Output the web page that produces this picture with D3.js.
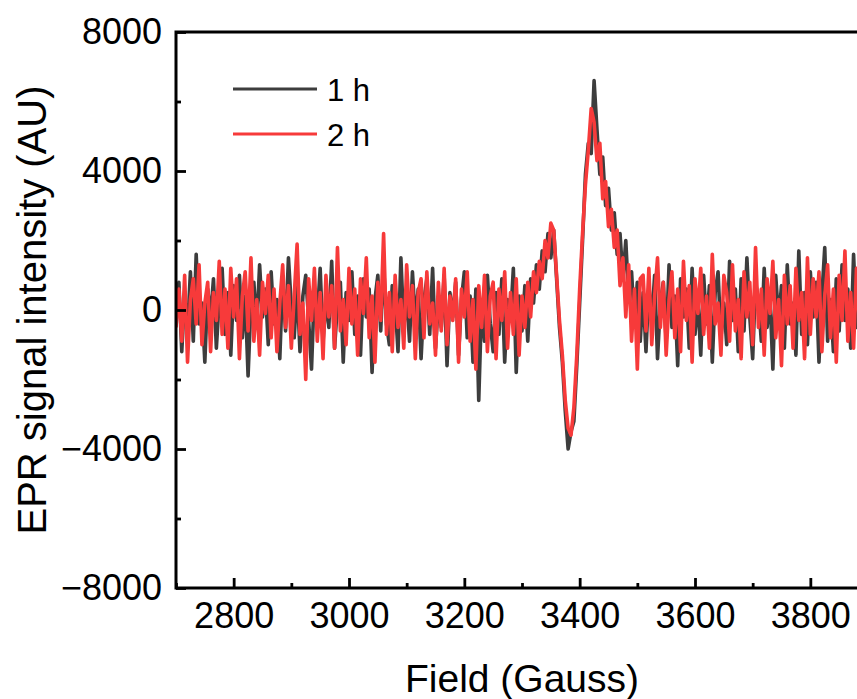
<!DOCTYPE html>
<html lang="en">
<head>
<meta charset="UTF-8">
<script src="https://d3js.org/d3.v7.min.js"></script>
<style>
  body { margin: 0; background: #fff; }
  svg { display: block; font-family: "Liberation Sans", Arial, sans-serif; }
  .tick text { font-size: 36px; fill: #000; }
</style>
</head>
<body>
<script>
// field sampling (Gauss): 2700 .. 3885, step 5
var fieldStart = 2700, fieldStep = 5;

// 1 h spectrum (AU)
var series1h = [
  -300, 800, -1200, 400, -600, 1100, -900, 1600, -400, 200,
  -1500, 600, -200, 900, -1100, 300, 1200, -700, 500, -1300,
  700, -300, 1000, -800, 400, -1900, 200, 800, -500, 1300,
  -200, 600, -1000, 1100, -400, 300, -1400, 900, -600, 1500,
  100, -800, 700, -1200, 400, 1000, -300, -1700, 600, -200,
  1200, -900, 300, -500, 1400, -1100, 200, 800, -1500, 500,
  -300, 1100, -700, 400, -1300, 900, -200, 600, -1800, 300,
  1000, -600, 1300, -400, -1000, 700, 200, -1200, 1500, -500,
  400, -900, 1100, -300, 600, -1400, 300, 900, -700, 1200,
  -1100, 200, -500, 1000, -1600, 500, -200, 800, -1300, 300,
  1100, -800, 400, -1500, 600, -2600, 200, -900, 1000, -400,
  -1200, 500, -700, 900, -1500, 300, -300, 1200, -1800, 400,
  -600, 700, -900, 900, 200, 1300, 600, 1700, 1100, 2200,
  1500, 2300, 900, -500, -1500, -2900, -4000, -3500, -3200, -1600,
  200, 2000, 3900, 4800, 4500, 6600, 5200, 3900, 4400, 3000,
  3500, 2300, 2800, 1600, 2200, 900, 2000, 300, 1100, -400,
  800, -900, 500, -1200, 700, -300, 1000, -1400, 200, 800,
  -900, 1300, -500, 400, -1600, 900, -200, 600, -1100, 1200,
  -700, 300, -1300, 1000, -400, 700, -1500, 500, 1100, -800,
  200, -1000, 1400, -300, 600, -1200, 900, -600, 1500, -200,
  -1400, 800, 300, -900, 1200, -500, 400, -1700, 1000, -300,
  700, -1100, 1300, -400, 200, -1300, 1700, -700, 500, -1000,
  1100, -200, 800, -1500, 400, 1800, -900, 300, -1200, 900,
  -600, 1300, -300, 600, -1100, 1600, -500, 200
];

// 2 h spectrum (AU)
var series2h = [
  -500, 600, -900, 1000, -1500, 300, 900, -400, 1300, -1000,
  200, 800, -1200, 500, -300, 1400, -700, 600, -1100, 1200,
  -200, 900, -1400, 400, 1100, -600, 1500, -900, 300, -1300,
  800, -100, 1000, -800, 600, -1200, 200, 1300, -500, 700,
  -1100, 400, 1900, -700, 200, -2000, 900, -300, 1200, -900,
  500, -1400, 1000, -200, 700, -1100, 1800, -600, 300, -1000,
  1200, -400, 600, -1300, 900, -100, 1500, -800, 400, -1500,
  800, -300, 2200, -700, 500, -1200, 1000, -500, 300, -1100,
  1300, -200, 700, -1400, 500, 900, -800, 1100, -400, 200,
  -1300, 800, -600, 1200, -1000, 400, -300, 900, -1500, 600,
  -200, 1100, -900, 300, -1700, 700, -500, 1000, -1200, 400,
  800, -1400, 600, -300, 1100, -1100, 500, -700, 900, -1300,
  400, -500, 800, -200, 1100, 500, 1400, 900, 2000, 1500,
  2500, 2300, 1000, -300, -1300, -2600, -3400, -3600, -2800, -1300,
  600, 2200, 3600, 4600, 5800, 5400, 4300, 4800, 3200, 3700,
  2400, 2900, 1800, 2300, 700, 1500, -200, 1300, -900, 600,
  -1700, 900, 1000, -600, 1200, -1000, 400, 1500, -500, 800,
  -1300, 300, 1100, -800, 600, -1200, 1400, -300, 700, -1500,
  900, -100, 1200, -700, 400, -1100, 1600, -400, 200, -1300,
  1000, 500, -900, 1300, -600, 300, -1400, 1100, -200, 800,
  -1000, 1800, -500, 600, -1300, 900, -100, 1400, -800, 300,
  -1600, 1000, -400, 700, -1100, 1200, -300, 500, -1400, 1500,
  -700, 900, -200, 1100, -1200, 400, 1300, -800, 600, -1500,
  1000, -300, 1700, -900, 500, -1100, 1200, -400
];

var seriesNames = ["1 h", "2 h"];
var seriesColors = ["#3d3d3d", "#f73a3a"];

var xMajor = [2800, 3000, 3200, 3400, 3600, 3800];
var xMinor = [2700, 2900, 3100, 3300, 3500, 3700];
var yMajor = [8000, 4000, 0, -4000, -8000];
var yMinor = [6000, 2000, -2000, -6000];

var W = 857, H = 699;
var pLeft = 176, pRight = 868, pTop = 32, pBottom = 588;

var svg = d3.select("body").append("svg")
    .attr("width", W)
    .attr("height", H);

var x = d3.scaleLinear().domain([2700, 3900]).range([pLeft, pRight]);
var y = d3.scaleLinear().domain([-8000, 8000]).range([pBottom, pTop]);

svg.append("defs").append("clipPath").attr("id", "plot")
  .append("rect")
    .attr("x", pLeft).attr("y", pTop)
    .attr("width", pRight - pLeft).attr("height", pBottom - pTop);

function toPoints(vals) {
  return vals.map(function(v, i) { return [fieldStart + i * fieldStep, v]; });
}

var line = d3.line()
    .x(function(d) { return x(d[0]); })
    .y(function(d) { return y(d[1]); });

var plot = svg.append("g").attr("clip-path", "url(#plot)");
[series1h, series2h].forEach(function(vals, k) {
  plot.append("path")
    .datum(toPoints(vals))
    .attr("fill", "none")
    .attr("stroke", seriesColors[k])
    .attr("stroke-width", 3.6)
    .attr("stroke-linejoin", "round")
    .attr("d", line);
});

// axes, ticks inward
svg.append("g")
    .attr("transform", "translate(0," + pBottom + ")")
    .call(d3.axisBottom(x).tickValues(xMajor).tickSize(-10).tickPadding(14).tickFormat(d3.format("d")))
    .call(function(g) { g.select(".domain").remove(); });
svg.append("g")
    .attr("transform", "translate(0," + pBottom + ")")
    .call(d3.axisBottom(x).tickValues(xMinor).tickSize(-5).tickFormat(""))
    .call(function(g) { g.select(".domain").remove(); });

svg.append("g")
    .attr("transform", "translate(" + pLeft + ",0)")
    .call(d3.axisLeft(y).tickValues(yMajor).tickSize(-10).tickPadding(14)
      .tickFormat(function(d) { return d < 0 ? "\u2212" + Math.abs(d) : d; }))
    .call(function(g) { g.select(".domain").remove(); });
svg.append("g")
    .attr("transform", "translate(" + pLeft + ",0)")
    .call(d3.axisLeft(y).tickValues(yMinor).tickSize(-5).tickFormat(""))
    .call(function(g) { g.select(".domain").remove(); });

svg.selectAll(".tick line").attr("stroke", "#000").attr("stroke-width", 2.8);

// frame
svg.append("rect")
    .attr("x", pLeft).attr("y", pTop)
    .attr("width", pRight - pLeft).attr("height", pBottom - pTop)
    .attr("fill", "none")
    .attr("stroke", "#000")
    .attr("stroke-width", 3);

// axis titles
svg.append("text")
    .attr("x", (pLeft + pRight) / 2)
    .attr("y", 692)
    .attr("text-anchor", "middle")
    .style("font-size", "39px")
    .text("Field (Gauss)");

svg.append("text")
    .attr("transform", "translate(46," + (pTop + pBottom) / 2 + ") rotate(-90)")
    .attr("text-anchor", "middle")
    .style("font-size", "40px")
    .text("EPR signal intensity (AU)");

// legend
var legend = svg.append("g");
seriesNames.forEach(function(name, k) {
  var ly = 89 + k * 45;
  legend.append("line")
    .attr("x1", 233).attr("x2", 317)
    .attr("y1", ly).attr("y2", ly)
    .attr("stroke", seriesColors[k])
    .attr("stroke-width", 3);
  legend.append("text")
    .attr("x", 327).attr("y", ly + 12)
    .style("font-size", "31px")
    .text(name);
});
</script>
</body>
</html>
